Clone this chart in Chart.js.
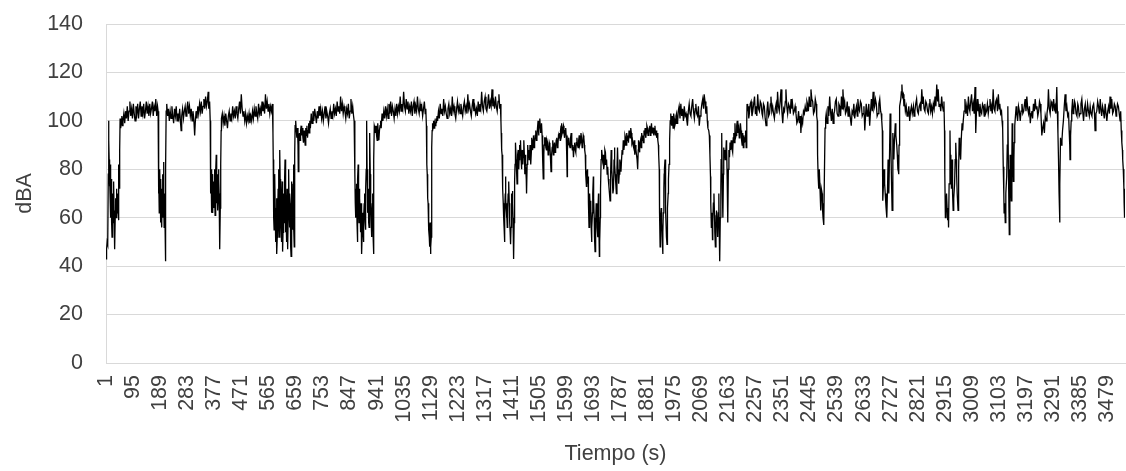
<!DOCTYPE html>
<html lang="es">
<head>
<meta charset="utf-8">
<title>Nivel sonoro</title>
<script src="https://cdn.jsdelivr.net/npm/chart.js@4.4.1/dist/chart.umd.min.js"></script>
<style>
  html, body { margin: 0; padding: 0; background: #fff; }
  #grafico { display: block; }
</style>
</head>
<body>
<canvas id="grafico" width="1126" height="471"></canvas>
<script>
// lecturas [segundo, dBA] tomadas del grafico, por tramos
const tramo1 = [[1,43],[3,47],[5,50],[7,49],[9,78],[10,100],[11,92],[12,84],[13,73],[14,78],[15,70],[16,82],[17,66],[18,60],[19,74],[20,76],[21,58],[22,52],[23,66],[24,70],[25,62],[26,58],[27,71],[28,75],[29,63],[30,55],[31,50],[32,47],[33,60],[34,68],[35,64],[36,60],[37,70],[38,72],[39,66],[40,62],[41,68],[42,70],[43,63],[44,59],[45,72],[46,82],[47,78],[48,72],[49,88],[50,101],[52,97],[54,99],[56,102],[58,98],[60,100],
  [63,103],[66,99],[69,104],[72,101],[75,106],[78,100],[81,104],[84,108],[87,102],[90,105],[93,101],[96,107],[99,103],[102,100],[105,106],[108,103],[111,107],[114,101],[117,105],[120,108],[123,102],[126,106],[129,103],[132,107],[135,101],[138,104],[141,108],[144,103],[147,106],[150,102],[153,107],[156,103],[159,105],[162,108],[165,102],[168,106],[171,104],[174,109],[177,102],[180,106],
  [182,104],[183,92],[184,70],[185,78],[186,62],[187,66],[188,80],[189,71],[190,58],[191,64],[192,76],[193,60],[194,72],[195,56],[196,68],[197,78],[198,62],[199,60],[200,74],[201,83],[202,66],[203,56],[204,64],[205,70],[206,58],[207,55],[208,42],[209,80],[210,104],
  [212,107],[215,102],[218,105],[221,100],[224,104],[227,101],[230,106],[233,102],[236,99],[239,105],[242,102],[245,106],[248,100],[251,103],[254,101],[257,105],[260,99],[262,96],[264,102],[267,105],[270,101],[273,104],[276,106],[279,102],[282,105],[285,108],[288,103],[291,106],[294,102],[297,105],[300,100],[303,104],[306,101],[309,94],[311,99],[314,104],[317,101],[320,106],[323,103],[326,107],[329,104],[332,108],[335,103],[338,106],[341,109],[344,105],[347,110],[350,106],[353,108],[356,112],[358,105],[361,108]];
const tramo2 = [[363,100],[364,84],[365,70],[366,80],[367,62],[368,66],[369,75],[370,78],[371,64],[372,62],[373,70],[374,75],[375,68],[376,64],[377,72],[378,80],[379,70],[380,61],[381,68],[382,73],[383,79],[384,86],[385,74],[386,66],[387,72],[388,78],[389,68],[390,63],[391,70],[392,80],[393,76],[394,70],[395,62],[396,56],[397,47],[398,64],[399,78],[400,82],[401,96],[402,101],
  [405,103],[408,99],[411,102],[414,98],[417,103],[420,100],[423,97],[426,102],[429,104],[432,100],[435,103],[438,101],[441,106],[444,102],[447,104],[450,101],[453,106],[456,103],[459,101],[462,105],[465,108],[468,103],[471,111],[474,105],[477,102],[480,104],[483,100],[486,103],[489,99],[492,102],[495,100],[498,103],[501,99],[504,102],[507,100],[510,104],[513,101],[516,105],[519,102],[522,106],[525,103],[528,101],[531,107],[534,103],[537,105],[540,102],[543,108],[546,104],[549,106],[552,103],[555,111],[558,105],[561,108],[564,104],[567,107],[570,103],[573,106],[576,104],[579,107],
  [581,95],[582,84],[583,72],[584,60],[585,55],[586,68],[587,74],[588,78],[589,62],[590,50],[591,58],[592,64],[593,68],[594,54],[595,45],[596,52],[597,58],[598,62],[599,72],[600,80],[601,66],[602,58],[603,52],[604,70],[605,88],[606,76],[607,70],[608,64],[609,56],[610,50],[611,62],[612,68],[613,75],[614,58],[615,46],[616,54],[617,62],[618,70],[619,64],[620,58],[621,66],[622,76],[623,84],[624,72],[625,60],[626,54],[627,58],[628,50],[629,62],[630,72],[631,66],[632,55],[633,47],[634,60],[635,72],[636,80],[637,66],[638,56],[639,62],[640,70],[641,66],[642,52],[643,48],[644,44],[645,60],[646,75],[647,68],[648,60],[649,55],[650,66],[651,74],[652,82],[653,68],[654,56],[655,48],[656,62],[657,86],[658,98],
  [660,100],[662,96],[664,93],[666,97],[668,90],[669,79],[671,92],[673,95],[675,92],[677,96],[679,98],[681,94],[683,97],[685,93],[687,91],[689,96],[691,93],[693,90],[695,97],[697,94],[699,98],[701,93],[703,96],[705,99],[707,95],[709,100],[711,97]];
const tramo3 = [[714,103],[717,99],[720,104],[723,100],[726,105],[729,102],[732,99],[735,104],[738,101],[741,106],[744,102],[747,105],[750,101],[753,104],[756,100],[759,103],[762,106],[765,101],[768,104],[771,102],[774,99],[777,103],[780,105],[783,101],[786,104],[789,102],[792,107],[795,103],[798,105],[801,102],[804,108],[807,104],[810,106],[813,103],[816,110],[819,104],[822,107],[825,103],[828,106],[831,104],[834,101],[837,105],[840,103],[843,107],[846,101],[849,104],[852,109],[855,103],[858,106],[861,102],[863,100],
  [865,86],[866,78],[867,66],[868,72],[869,60],[870,66],[871,74],[872,72],[873,58],[874,50],[875,64],[876,76],[877,82],[878,70],[879,64],[880,58],[881,62],[882,72],[883,68],[884,62],[885,54],[886,58],[887,66],[888,56],[889,50],[890,45],[891,54],[892,58],[893,62],[894,56],[895,52],[896,50],[897,60],[898,66],[899,70],[900,62],[901,58],[902,55],[903,66],[904,72],[905,80],[906,88],[907,100],[908,80],[909,62],[910,66],[911,70],[912,72],[913,64],[914,58],[915,56],[916,68],[917,84],[918,95],[919,78],[920,70],[921,65],[922,60],[923,56],[924,52],[925,60],[926,66],[927,70],[928,62],[929,52],[930,45],[931,60],[932,84],[933,98],
  [935,97],[937,95],[939,98],[941,94],[943,92],[945,99],[947,95],[949,92],[951,96],[953,98],[955,100],[957,97],
  [960,103],[963,100],[966,104],[969,101],[972,106],[975,102],[978,105],[981,101],[984,107],[987,103],[990,108],[993,102],[996,106],[999,104],[1002,101],[1005,105],[1008,102],[1011,107],[1014,103],[1017,106],[1020,104],[1023,110],[1026,104],[1029,107],[1032,105],[1035,112],[1038,106],[1041,104],[1044,109],[1047,105],[1050,108],[1053,103],[1056,106],[1059,104],[1062,108],[1065,102],[1068,106],[1071,108],[1074,103],[1077,106],[1080,104],[1083,110],[1086,105],[1089,103],[1092,107],[1095,104],[1098,106],[1101,102],[1104,105],[1107,108],[1110,103],[1112,105]];
const tramo4 = [[1114,98],[1115,90],[1116,82],[1117,78],[1118,72],[1119,68],[1120,66],[1121,63],[1122,58],[1123,55],[1124,52],[1125,48],[1126,55],[1127,58],[1128,50],[1129,45],[1130,48],[1131,52],[1132,70],[1133,89],[1134,96],[1135,99],[1136,96],[1137,97],
  [1139,100],[1141,97],[1143,99],[1145,98],[1147,101],[1149,99],[1151,102],[1153,100],
  [1156,104],[1159,101],[1162,107],[1165,103],[1168,105],[1171,102],[1174,109],[1177,104],[1180,106],[1183,103],[1186,101],[1189,105],[1192,107],[1195,103],[1198,105],[1201,102],[1204,110],[1207,104],[1210,106],[1213,103],[1216,101],[1219,105],[1222,108],[1225,104],[1228,106],[1231,103],[1234,107],[1237,104],[1240,102],[1243,106],[1246,108],[1249,104],[1252,106],[1255,103],[1258,111],[1261,105],[1264,107],[1267,104],[1270,102],[1273,106],[1276,109],[1279,104],[1282,106],[1285,103],[1288,105],[1291,102],[1294,108],[1297,104],[1300,107],[1303,105],[1306,112],[1309,106],[1312,104],[1315,108],[1318,110],[1321,105],[1324,104],[1327,107],[1330,111],[1333,105],[1336,108],[1339,106],[1342,113],[1345,106],[1348,108],[1351,105],[1354,110],[1357,106],[1360,104],[1363,108],[1366,111],[1369,105],[1371,107],
  [1373,100],[1374,95],[1375,90],[1376,88],[1377,86],[1378,80],[1379,76],[1380,72],[1381,66],[1382,62],[1383,60],[1384,56],[1385,52],[1386,50],[1387,62],[1388,70],[1389,77],[1390,68],[1391,64],[1392,60],[1393,66],[1394,62],[1395,56],[1396,60],[1397,64],[1398,70],[1399,74],[1400,68],[1401,75],[1402,66],[1403,62],[1404,58],[1405,54],[1406,52],[1407,49],[1408,56],[1409,62],[1410,66],[1411,70],[1412,64],[1413,71],[1414,66],[1415,60],[1416,55],[1417,50],[1418,43],[1419,58],[1420,66],[1421,75],[1422,82],[1423,88],[1424,91]];
const tramo5 = [[1426,84],[1427,80],[1429,74],[1430,77],[1432,86],[1433,88],[1435,80],[1436,84],[1438,90],[1440,86],[1441,92],[1443,84],[1444,80],[1446,86],[1447,88],[1449,82],[1450,85],[1452,90],[1453,92],[1455,84],[1456,78],[1458,86],[1459,81],[1461,76],[1462,70],[1464,82],[1465,88],[1467,90],[1468,85],[1470,88],[1471,84],[1473,86],[1474,90],[1476,86],[1477,82],[1479,88],[1480,93],[1482,90],[1483,88],[1485,92],[1486,94],[1488,89],[1490,91],[1492,94],[1494,96],[1496,92],[1498,93],[1500,97],[1502,100],[1504,94],[1505,96],[1507,99],[1508,101],[1510,97],[1511,95],[1513,98],[1514,99],[1516,94],[1517,92],[1519,84],[1520,76],[1522,86],[1523,90],[1525,93],[1527,93],[1529,89],[1531,88],[1533,92],[1535,91],[1537,86],[1539,87],[1541,91],[1543,90],[1545,85],[1547,79],[1549,86],[1551,89],[1553,92],[1555,86],[1557,89],[1559,91],[1561,87],[1563,88],[1565,92],[1567,93],[1569,89],[1571,90],[1573,94],[1575,93],[1577,95],[1579,92],[1580,96],[1582,98],[1583,99],[1585,94],[1586,95],[1588,97],[1590,98],[1592,95],[1594,93],[1596,96],[1598,97],[1600,93],[1601,94],[1602,86],[1603,77],[1604,88],[1606,92],[1608,90],[1609,93],[1611,90],[1613,89],[1615,93],[1617,95],[1619,91],[1621,88],[1623,90],[1625,85],[1627,89],[1629,91],[1631,88],[1633,87],[1635,91],[1637,93],[1639,90],[1641,89],[1643,92],[1645,94],[1647,90],[1649,91],[1651,95],[1653,93],[1655,89],[1657,90],[1659,94],[1661,93],[1663,90],
  [1664,88],[1666,86],[1667,84],[1668,78],[1670,73],[1671,78],[1673,80],[1674,74],[1676,77],[1677,66],[1679,56],[1680,62],[1682,70],[1683,64],[1685,67],[1686,58],[1688,50],[1689,56],[1691,62],[1692,70],[1694,77],[1695,68],[1697,60],[1698,52],[1700,46],[1701,52],[1703,58],[1704,66],[1706,63],[1707,56],[1709,52],[1710,62],[1712,70],[1713,58],[1715,44],[1716,50],[1718,60],[1719,72],[1721,84],[1722,88],
  [1724,88],[1726,84],[1728,86],[1730,80],[1732,82],[1734,88],[1736,87],[1738,82],[1740,84],[1742,78],[1744,81],[1746,76],[1748,73],[1750,70],[1752,67],[1754,78],[1756,88],[1758,80],[1760,76],[1762,70],[1764,72],[1766,84],[1767,89],[1769,82],[1770,78],[1772,74],[1774,70],[1776,80],[1778,89],[1780,80],[1782,74],[1784,78],[1786,84],[1788,82],[1790,79],[1792,84],[1794,88],[1796,86]];
const tramo6 = [[1798,92],[1800,88],[1802,90],[1804,94],[1806,93],[1808,90],[1810,95],[1812,92],[1814,94],[1816,91],[1818,96],[1820,94],[1822,93],[1824,97],[1826,95],[1828,91],[1830,92],[1832,90],[1834,89],[1836,92],[1838,86],[1840,90],[1842,88],[1844,86],[1846,84],[1848,80],[1850,88],[1851,92],[1853,90],[1854,87],[1856,90],[1858,92],[1860,89],[1862,95],[1864,92],[1866,94],[1868,91],[1870,96],[1872,94],[1874,97],[1876,93],[1878,95],[1880,98],[1882,97],[1884,94],[1886,95],[1888,97],[1890,98],[1892,94],[1894,96],[1896,99],[1898,95],[1900,97],[1902,97],[1904,94],[1906,96],[1908,98],[1910,94],[1912,96],[1914,93],[1916,95],[1918,92],
  [1920,90],[1921,86],[1923,80],[1924,62],[1926,48],[1927,56],[1928,60],[1930,64],[1931,58],[1933,52],[1935,45],[1936,54],[1937,62],[1939,72],[1940,78],[1941,80],[1943,84],[1944,76],[1946,63],[1947,56],[1948,52],[1950,49],[1951,58],[1952,64],[1954,70],[1955,76],[1957,82],[1959,92],[1961,100],
  [1963,103],[1965,99],[1966,98],[1968,102],[1969,101],[1971,97],[1972,99],[1974,103],[1975,101],[1977,98],[1979,99],[1981,102],[1983,103],[1985,99],[1987,100],[1989,104],[1992,106],[1995,101],[1998,107],[2001,102],[2004,105],[2007,100],[2010,106],[2013,102],[2016,103],[2019,100],[2021,98],[2024,104],[2027,107],[2030,103],[2033,102],[2036,106],[2039,109],[2042,104],[2045,101],[2048,105],[2050,107],[2053,103],[2056,102],[2059,106],[2062,98],[2065,102],[2068,104],[2071,107],[2074,109],[2077,105],[2079,111],[2082,108],[2085,103],[2088,106],[2090,100],[2092,97]];
const tramo7 = [[2095,96],[2097,94],[2099,86],[2101,77],[2102,66],[2104,56],[2106,62],[2108,51],[2109,58],[2111,66],[2113,70],[2115,61],[2116,54],[2118,48],[2120,56],[2122,63],[2124,58],[2126,52],[2128,62],[2130,70],[2131,58],[2133,42],[2135,60],[2137,73],[2138,84],[2140,95],[2142,72],[2144,60],[2146,78],[2147,89],
  [2149,86],[2150,88],[2152,84],[2154,86],[2156,92],[2157,90],[2159,76],[2161,58],[2163,80],[2165,88],[2167,85],[2169,91],[2171,88],[2173,92],[2175,89],[2178,87],[2180,93],[2182,95],[2184,91],[2186,99],[2188,93],[2190,94],[2192,98],[2194,100],[2196,95],[2199,97],[2201,93],[2203,95],[2205,99],[2207,96],[2209,92],[2211,90],[2213,95],[2215,89],[2217,94],[2219,91],[2221,93],[2223,96],[2225,89],
  [2227,100],[2228,107],[2230,104],[2232,106],[2234,101],[2236,103],[2239,107],[2242,108],[2245,102],[2248,104],[2251,107],[2254,110],[2257,103],[2259,106],[2262,102],[2265,111],[2268,105],[2271,104],[2274,108],[2277,107],[2280,103],[2282,102],[2285,107],[2288,106],[2291,101],[2294,98],[2297,104],[2300,108],[2303,102],[2306,103],[2309,107],[2311,110],[2314,104],[2317,106],[2320,103],[2323,101],[2326,105],[2329,107],[2332,103],[2334,112],[2337,106],[2340,104],[2343,108],[2346,113],[2349,104],[2352,99],[2355,105],[2358,104],[2361,108],[2363,113],[2366,106],[2369,103],[2372,107],[2375,106],[2378,103],[2381,109],[2384,105],[2386,107],[2389,103],[2392,104],[2395,106],[2398,103],[2401,99],[2404,100],[2407,104],[2410,99],[2413,102],[2415,95],[2418,101],[2421,99],[2424,104],[2427,103],[2430,106],[2433,104],[2436,108],[2438,107],[2441,104],[2444,110],[2447,106],[2450,113],[2453,109],[2456,108],[2459,103],[2462,104],[2465,109],[2468,107],[2470,102]];
const tramo8 = [[2472,100],[2473,86],[2475,77],[2477,72],[2479,80],[2480,80],[2482,70],[2484,63],[2486,72],[2489,70],[2490,64],[2492,60],[2494,66],[2495,57],[2497,80],[2499,97],
  [2501,101],[2503,103],[2506,99],[2509,106],[2512,102],[2515,110],[2518,104],[2521,100],[2524,105],[2527,99],[2530,103],[2532,104],[2535,108],[2538,109],[2541,103],[2544,102],[2547,107],[2550,106],[2553,102],[2556,110],[2559,105],[2561,113],[2564,106],[2567,108],[2570,103],[2573,104],[2576,108],[2579,102],[2582,106],[2584,104],[2587,101],[2590,98],[2593,104],[2596,103],[2599,107],[2602,101],[2605,104],[2608,106],[2611,102],[2613,109],[2616,105],[2619,104],[2622,108],[2625,107],[2628,102],[2631,103],[2634,106],[2637,96],[2640,103],[2642,107],[2645,102],[2648,104],[2651,107],[2654,98],[2657,104],[2660,109],[2663,104],[2666,112],[2669,105],[2671,106],[2674,109],[2677,107],[2680,102],[2683,103],[2686,107],[2689,109],[2692,104],[2694,103],[2696,100],
  [2698,96],[2699,80],[2700,67],[2702,74],[2704,80],[2706,74],[2708,70],[2710,66],[2711,64],[2713,70],[2714,60],[2716,72],[2718,84],[2720,76],[2721,70],[2723,86],[2725,103],[2727,96],[2728,90],[2730,74],[2732,63],[2734,80],[2735,95],[2737,88],[2738,84],[2740,92],[2743,99],[2745,94],[2748,90],[2750,86],[2752,80],[2754,79],[2755,78],[2756,90],[2757,102],
  [2759,106],[2762,109],[2764,112],[2766,115],[2768,110],[2771,111],[2773,106],[2775,109],[2778,104],[2781,106],[2784,102],[2787,103],[2790,106],[2793,100],[2796,104],[2799,106],[2802,103],[2806,106],[2808,102],[2811,104],[2814,107],[2817,109],[2820,104],[2823,103],[2826,106],[2829,107],[2832,104],[2835,113],[2838,107],[2840,110],[2843,105],[2846,104],[2849,108],[2852,107],[2855,104],[2858,103],[2861,107],[2863,109],[2866,104],[2869,106],[2872,103],[2875,107],[2878,105],[2881,110],[2884,106],[2887,115],[2890,108],[2892,113],[2895,106],[2898,107],[2901,104],[2904,110],[2907,106],[2910,104],[2912,108]];
const tramo9 = [[2914,96],[2915,78],[2917,60],[2919,66],[2921,70],[2923,64],[2925,59],[2927,62],[2928,56],[2930,74],[2933,96],[2934,86],[2936,80],[2938,72],[2940,84],[2942,70],[2944,63],[2946,68],[2949,74],[2951,84],[2953,91],[2955,84],[2956,78],[2958,70],[2961,63],[2963,80],[2965,93],[2967,88],[2970,84],[2972,92],[2975,99],[2977,96],[2979,100],
  [2982,104],[2985,109],[2988,103],[2991,106],[2994,102],[2997,110],[3000,105],[3002,104],[3005,108],[3008,111],[3011,104],[3014,107],[3017,103],[3020,114],[3022,104],[3023,95],[3025,104],[3028,109],[3030,104],[3032,106],[3035,102],[3037,107],[3040,104],[3043,103],[3046,107],[3049,106],[3052,102],[3054,107],[3057,103],[3060,104],[3063,107],[3066,103],[3069,106],[3072,109],[3075,104],[3077,106],[3080,103],[3083,113],[3086,105],[3089,104],[3092,108],[3095,109],[3098,104],[3101,111],[3104,105],[3106,107],[3109,103],[3112,104],[3114,100],
  [3116,97],[3118,81],[3120,70],[3121,62],[3123,66],[3125,58],[3127,70],[3130,77],[3132,90],[3134,106],[3136,80],[3138,62],[3139,53],[3141,72],[3142,86],[3144,74],[3146,67],[3148,84],[3149,99],[3151,86],[3153,75],[3155,84],[3156,91],[3158,98],[3161,103],
  [3163,106],[3165,103],[3168,100],[3171,106],[3174,104],[3177,100],[3180,104],[3183,107],[3186,103],[3189,104],[3192,107],[3194,109],[3197,104],[3200,110],[3203,105],[3206,103],[3209,106],[3212,99],[3215,103],[3217,104],[3220,101],[3223,107],[3226,104],[3229,109],[3232,105],[3235,106],[3238,102],[3241,104],[3244,108],[3246,107],[3249,103],[3252,94],[3255,97],[3258,99],[3261,95],[3264,102],[3267,100],[3270,103],[3273,106],[3275,113],[3278,105],[3281,103],[3284,108],[3287,107],[3290,104],[3293,109],[3296,105],[3298,106],[3301,103],[3304,114],[3306,104]];
const tramo10 = [[3308,95],[3310,84],[3312,70],[3314,58],[3315,74],[3317,93],[3319,90],[3322,92],[3324,96],[3327,100],[3330,106],
  [3333,111],[3336,104],[3339,106],[3342,102],[3345,103],[3347,96],[3349,90],[3350,84],[3352,94],[3354,100],[3356,104],[3359,109],[3361,103],[3363,104],[3366,108],[3368,107],[3371,103],[3374,102],[3377,107],[3379,106],[3382,102],[3385,103],[3388,107],[3391,109],[3394,104],[3397,100],[3400,105],[3403,107],[3406,102],[3408,103],[3411,107],[3414,104],[3417,102],[3420,106],[3423,103],[3426,102],[3429,106],[3432,107],[3435,103],[3437,96],[3440,103],[3443,104],[3446,108],[3449,106],[3452,103],[3455,109],[3458,104],[3460,102],[3463,106],[3466,104],[3469,101],[3472,107],[3475,103],[3478,100],[3481,104],[3484,106],[3487,103],[3489,110],[3492,105],[3495,109],[3498,103],[3501,104],[3504,107],[3507,106],[3510,102],[3512,104],[3515,107],[3518,106],[3521,103],[3524,100],[3526,104],[3528,96],[3530,91],[3532,88],[3533,84],[3535,80],[3537,73],[3538,66],[3539,60],[3540,66],[3541,72]];

// etiquetas del eje de tiempo (cada 94 s)
const etiquetasTiempo = [1, 95, 189, 283, 377, 471, 565, 659, 753, 847, 941, 1035, 1129, 1223, 1317, 1411, 1505, 1599, 1693, 1787, 1881, 1975, 2069, 2163, 2257, 2351, 2445, 2539, 2633, 2727, 2821, 2915, 3009, 3103, 3197, 3291, 3385, 3479];
const tiempoFinal = 3541;

// une los tramos en una sola serie
const tramos = [tramo1, tramo2, tramo3, tramo4, tramo5, tramo6, tramo7, tramo8, tramo9, tramo10];
const serie = tramos.flat().map(([t, v]) => ({ x: t, y: v }));

const fuente = { family: "'Liberation Sans', Arial, sans-serif", size: 21.5 };
const colorTexto = "#404040";
const colorRejilla = "#d9d9d9";

new Chart(document.getElementById("grafico"), {
  type: "line",
  data: {
    datasets: [{
      data: serie,
      borderColor: "#000000",
      borderWidth: 1.3,
      pointRadius: 0,
      tension: 0,
      fill: false
    }]
  },
  options: {
    responsive: false,
    animation: false,
    devicePixelRatio: 1,
    layout: { padding: { top: 24, right: 1, left: 0, bottom: 0 } },
    plugins: { legend: { display: false }, tooltip: { enabled: false } },
    scales: {
      x: {
        type: "linear",
        min: 1,
        max: tiempoFinal,
        afterBuildTicks: (eje) => { eje.ticks = etiquetasTiempo.map(v => ({ value: v })); },
        afterFit: (eje) => {
          eje.height = 108;
          eje.paddingLeft = 0;
          eje.paddingRight = 0;
        },
        ticks: {
          autoSkip: false,
          minRotation: 90,
          maxRotation: 90,
          padding: 12,
          color: colorTexto,
          font: fuente,
          callback: (v) => String(v)
        },
        grid: { display: false, drawTicks: false },
        border: { color: colorRejilla },
        title: { display: true, text: "Tiempo (s)", color: colorTexto, font: fuente, padding: { top: 0, bottom: 4 } }
      },
      y: {
        min: 0,
        max: 140,
        afterFit: (eje) => {
          eje.width = 106;
          eje.paddingTop = 0;
          eje.paddingBottom = 0;
        },
        ticks: { stepSize: 20, padding: 23, color: colorTexto, font: fuente },
        grid: { color: colorRejilla, drawTicks: false },
        border: { color: colorRejilla },
        title: { display: true, text: "dBA", color: colorTexto, font: fuente, padding: { top: 12, bottom: 0 } }
      }
    }
  }
});
</script>
</body>
</html>
